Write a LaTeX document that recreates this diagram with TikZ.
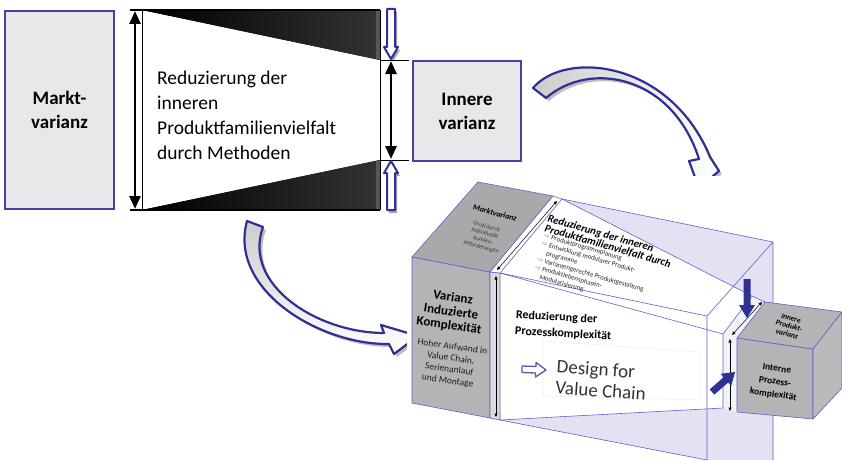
\documentclass[tikz,border=0pt]{standalone}
\usepackage{fontspec}
\setmainfont{Carlito}
\newfontfamily\symbolfont{DejaVu Sans}
\usepackage{tikz}
\usetikzlibrary{arrows.meta,shadows}
\definecolor{frame blue}{RGB}{66,66,160}
\definecolor{arrow blue}{RGB}{46,49,146}
\definecolor{edge blue}{RGB}{96,96,200}
\definecolor{panel gray}{RGB}{232,232,234}
\definecolor{cube gray}{RGB}{180,180,182}
\definecolor{glass}{RGB}{226,226,242}
\newcommand{\listarrow}{{\symbolfont\color{arrow blue!60}⇨}}

\tikzset{
  varbox/.style={draw=frame blue, line width=1.2pt, fill=panel gray, align=center,
    inner sep=0pt, font=\fontsize{19}{24}\selectfont\bfseries},
  hollow/.style={draw=arrow blue, line width=2pt, fill=white, line join=round,
    drop shadow={shadow xshift=2pt, shadow yshift=-3pt, opacity=.35, fill=black}},
  swoop/.style={draw=arrow blue, line width=2.2pt, line join=round,
    drop shadow={shadow xshift=3pt, shadow yshift=-3pt, opacity=.25, fill=black}},
  span arrow/.style={line width=2.6pt,
    {Triangle[length=13pt,width=11pt]}-{Triangle[length=13pt,width=11pt]}},
  gap arrow/.style={line width=.5pt,
    {Triangle[length=3.5pt,width=3pt]}-{Triangle[length=3.5pt,width=3pt]}},
  face/.style={draw=edge blue, line width=.6pt, line join=round},
}

\begin{document}
\begin{tikzpicture}[x=1pt, y=-1pt]
  \useasboundingbox (0,0) rectangle (842,460);

  % variance boxes
  \node[varbox, minimum width=109pt, minimum height=198pt] (markt) at (59.5,110) {Markt-\\varianz};
  \node[varbox, minimum width=108pt, minimum height=100pt] (innere) at (467,111) {Innere\\varianz};

  % part for the narrowing block
  \begin{scope}
    \fill[left color=black, right color=black!80] (142,10) -- (380,10) -- (380,60) -- cycle;
    \fill[left color=black, right color=black!80] (142,210) -- (380,210) -- (380,160) -- cycle;
    \fill[black!66] (376,10) rectangle (380,59) (376,161) rectangle (380,210);
  \end{scope}
  \draw[line width=2pt] (130,10) -- (380,10);
  \draw[line width=2.6pt] (130,210) -- (380,210);
  \draw[line width=.6pt]
    (142,10) -- (142,210)
    (380,10) -- (380,210)
    (380,60) -- (409,60)
    (380,160) -- (409,160);
  \node[anchor=west, align=left, inner sep=0pt, font=\fontsize{19.5}{25}\selectfont] (reduz)
    at (157,115) {Reduzierung der\\inneren\\Produktfamilienvielfalt\\durch Methoden};

  \coordinate (wideTop) at (135,11);
  \coordinate (wideBot) at (135,209);
  \coordinate (narrowTop) at (391,61);
  \coordinate (narrowBot) at (391,159);
  \draw[span arrow] (wideTop) -- (wideBot);
  \draw[span arrow] (narrowTop) -- (narrowBot);

  % squeezing arrows
  \path[hollow] (387,9) -- (395,9) -- (395,47) -- (398,47) -- (391,59) -- (384,47) -- (387,47) -- cycle;
  \path[hollow] (387,210) -- (395,210) -- (395,173) -- (398,173) -- (391,161) -- (384,173) -- (387,173) -- cycle;

  % curved arrows
  \path[swoop, left color=gray!40, right color=white]
    (533,88) .. controls (565,50) and (670,60) .. (710,157) -- (719,171) -- (699,188) -- (689,161)
    -- (699,159) .. controls (672,75) and (590,60) .. (546,98) -- cycle;
  \path[swoop, top color=gray!40, bottom color=white]
    (247,221) .. controls (228,290) and (320,345) .. (389,344) -- (394,354) -- (418,336)
    -- (381,325) -- (384,333) .. controls (318,333) and (242,285) .. (263,227) -- cycle;

  % white ground of the 3d view
  \fill[white] (407,176) rectangle (842,460);

  % glass box and funnel
  \fill[glass] (500,420) -- (500,273) -- (562,199) -- (773,242) -- (773,460) -- (707,460) -- cycle;
  \fill[white] (500,273) -- (562,199) -- (752,296) -- (723,334) -- cycle;
  \fill[white] (500,273) -- (723,334) -- (723,408) -- (500,420) -- cycle;
  \fill[glass!45] (723,334) -- (752,296) -- (765,302) -- (737,338) -- (737,412) -- (723,408) -- cycle;
  \draw[gray!12, line width=.6pt] (543,341) -- (700,352) -- (700,400) -- (543,396) -- cycle;
  \draw[face]
    (562,199) -- (752,296) -- (723,334) -- (500,273)
    (723,334) -- (723,408) -- (500,420)
    (752,296) -- (765,302);
  \draw[face]
    (500,273) -- (707,316) -- (773,242) -- (562,199)
    (707,316) -- (707,460)
    (773,242) -- (773,460)
    (500,420) -- (707,460);

  % market variance block
  \filldraw[face, fill=cube gray] (412,257) -- (490,272) -- (490,418) -- (412,403) -- cycle;
  \filldraw[face, fill=cube gray!94!black] (412,257) -- (478,182) -- (553,196) -- (490,272) -- cycle;
  \filldraw[face, fill=black!14] (490,272) -- (500,273) -- (500,420) -- (490,418) -- cycle;
  \filldraw[face, fill=white] (490,272) -- (553,196) -- (562,199) -- (500,273) -- cycle;
  \draw[gap arrow] (496,276) -- (496,417);
  \draw[gap arrow] (497,270) -- (557,201);

  % inner variance cube
  \filldraw[face, fill=cube gray] (737,338) -- (813,349) -- (813,419) -- (737,412) -- cycle;
  \filldraw[face, fill=cube gray] (737,338) -- (765,302) -- (842,312) -- (813,349) -- cycle;
  \filldraw[face, fill=cube gray!92] (813,349) -- (842,312) -- (842,388) -- (813,419) -- cycle;
  \draw[gap arrow] (730,339) -- (730,411);
  \draw[gap arrow] (732,335) -- (762,302);

  % pressing arrows
  \fill[arrow blue] (743.5,279) -- (750.5,279) -- (750.5,305) -- (755,305) -- (747,318)
    -- (739,305) -- (743.5,305) -- cycle;
  \fill[arrow blue] (709.7,389.4) -- (723.6,377.2) -- (720.7,373.8) -- (735,372) -- (731.2,385.9)
    -- (728.2,382.5) -- (714.3,394.6) -- cycle;

  % small outline arrow in front of the design text
  \draw[arrow blue!80, line width=1.3pt, fill=white, line join=round]
    (522,366) -- (536,366.5) -- (536,362.5) -- (546,370) -- (535.5,377) -- (535.5,373) -- (522,372.5) -- cycle;

  % texts of the 3d view
  \node[rotate=-8, align=center, inner sep=0pt, font=\fontsize{13}{14}\selectfont\bfseries]
    (varKomp) at (451,312) {Varianz\\Induzierte\\Komplexität};
  \node[rotate=-8, align=center, inner sep=0pt, font=\fontsize{9.5}{11.5}\selectfont, text=black!88]
    (aufwand) at (450,364) {Hoher Aufwand in\\Value Chain,\\Serienanlauf\\und Montage};
  \node[rotate=-15, inner sep=0pt, font=\fontsize{8}{8}\selectfont\bfseries\itshape]
    (marktTop) at (495,213) {Marktvarianz};
  \node[rotate=-15, align=center, inner sep=0pt, font=\fontsize{6}{7}\selectfont\itshape, text=black!80]
    (kunden) at (484,237) {Groß durch\\individuelle\\Kunden-\\anforderungen};
  \node[rotate=-16, anchor=north west, align=left, inner sep=0pt, font=\fontsize{10.8}{10.5}\selectfont\bfseries\itshape]
    (produktTitel) at (549,214) {Reduzierung der inneren\\Produktfamilienvielfalt durch};
  \node[rotate=-16, anchor=north west, align=left, inner sep=0pt, font=\fontsize{6.8}{8.2}\selectfont, text=black!85]
    (produktListe) at (545,233) {\listarrow\ Produktprogrammplanung\\
      \listarrow\ Entwicklung modularer Produkt-\\
      \hspace*{1em}programme\\
      \listarrow\ Variantengerechte Produktgestaltung\\
      \listarrow\ Produktlebensphasen-\\
      \hspace*{1em}Modularisierung};
  \node[rotate=-3, anchor=north west, align=left, inner sep=0pt, font=\fontsize{12}{16}\selectfont\bfseries]
    (prozess) at (516,310) {Reduzierung der\\Prozesskomplexität};
  \node[rotate=-4, anchor=west, align=left, inner sep=0pt, font=\fontsize{19}{21}\selectfont, text=black!80]
    (dfvc) at (556,377) {Design for\\Value Chain};
  \node[rotate=-15, align=center, inner sep=0pt, font=\fontsize{7.5}{8}\selectfont\bfseries\itshape]
    (innereTop) at (789,326) {Innere\\Produkt-\\varianz};
  \node[rotate=-8, align=center, inner sep=0pt, font=\fontsize{9.5}{13}\selectfont\bfseries]
    (interne) at (775,382) {Interne\\Prozess-\\komplexität};
\end{tikzpicture}
\end{document}
